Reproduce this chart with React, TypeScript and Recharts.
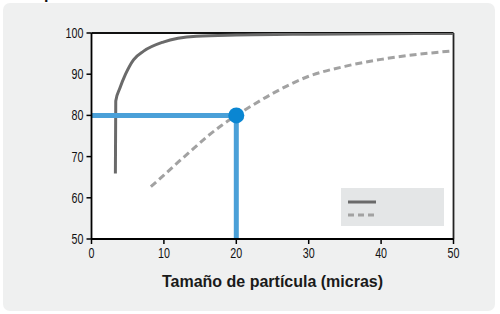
import React from 'react';
import { LineChart, Line, XAxis, YAxis, CartesianGrid, ReferenceLine, ReferenceDot } from 'recharts';

const xTicks = [0, 10, 20, 30, 40, 50];
const yTicks = [50, 60, 70, 80, 90, 100];

const solidX = [3.3, 3.35, 3.9, 4.7, 5.8, 7.2, 9.9, 14.5, 20, 30, 40, 50];
const solidY = [65.9, 83.5, 86.5, 90, 93.5, 95.6, 97.8, 99.2, 99.5, 99.7, 99.8, 99.9];

const dashedX = [8.2, 10, 12, 14, 16, 18, 20, 22, 25, 30, 35, 40, 45, 49.5];
const dashedY = [62.7, 65.5, 68.7, 71.8, 74.9, 77.6, 80, 82.2, 85.3, 89.5, 91.9, 93.6, 94.8, 95.6];

const highlightX = 20;
const highlightY = 80;

const solidData = solidX.map((x, i) => ({ x, y: solidY[i] }));
const dashedData = dashedX.map((x, i) => ({ x, y: dashedY[i] }));

const FONT = '"Liberation Sans", Arial, sans-serif';

function NarrowTick(props: any) {
  const { x, y, payload, textAnchor, axis } = props;
  const dy = axis === 'x' ? '0.68em' : '0.34em';
  return (
    <g transform={`translate(${x},${y})`}>
      <text transform="scale(0.74,1)" textAnchor={textAnchor} dy={dy} fontFamily={FONT} fontSize={14.5} fill="#111">
        {payload.value}
      </text>
    </g>
  );
}

export default function App() {
  return (
    <div style={{ position: 'fixed', left: 0, top: 0, width: 500, height: 314, background: '#fff', overflow: 'hidden' }}>
      <LineChart width={500} height={314} margin={{ top: 33, right: 46.5, left: 0, bottom: 14 }}>
        <rect x={3} y={3} width={492} height={308} rx={7} fill="#eff0f0" />
        <text x={44} y={-1.5} fontFamily={FONT} fontWeight="bold" fontSize={16} fill="#111">p</text>
        <rect x={91.5} y={33} width={362} height={206} fill="#ffffff" />
        <CartesianGrid stroke="#858585" strokeWidth={1.4} horizontalValues={[60, 70, 80, 90]} verticalValues={[10, 20, 30, 40]} />
        <XAxis
          type="number"
          dataKey="x"
          domain={[0, 50]}
          ticks={xTicks}
          allowDataOverflow
          tick={<NarrowTick axis="x" />}
          tickSize={5}
          tickMargin={4}
          height={61}
          stroke="#000"
          strokeWidth={1.8}
          tickLine={{ stroke: '#000', strokeWidth: 1.5 }}
          label={{ value: 'Tamaño de partícula (micras)', position: 'insideBottom', offset: 13, style: { fontFamily: FONT, fontWeight: 'bold', fontSize: 16, fill: '#1a1a1a' } }}
        />
        <YAxis
          type="number"
          dataKey="y"
          domain={[50, 100]}
          ticks={yTicks}
          allowDataOverflow
          tick={<NarrowTick axis="y" />}
          tickSize={5}
          tickMargin={3}
          width={91.5}
          stroke="#000"
          strokeWidth={1.8}
          tickLine={{ stroke: '#000', strokeWidth: 1.5 }}
        />
        <ReferenceLine y={100} stroke="#111" strokeWidth={1.8} />
        <ReferenceLine x={50} stroke="#222" strokeWidth={1.8} />
        <Line data={dashedData} dataKey="y" type="monotone" stroke="#a2a2a2" strokeWidth={3} strokeDasharray="7 4" dot={false} isAnimationActive={false} />
        <Line data={solidData} dataKey="y" type="monotone" stroke="#6a6a6a" strokeWidth={3} dot={false} isAnimationActive={false} />
        <ReferenceLine segment={[{ x: 0, y: highlightY }, { x: highlightX, y: highlightY }]} stroke="#4aa0d8" strokeWidth={5} />
        <ReferenceLine segment={[{ x: highlightX, y: highlightY }, { x: highlightX, y: 50 }]} stroke="#4aa0d8" strokeWidth={5} />
        <ReferenceDot x={highlightX} y={highlightY} r={8} fill="#0a86d2" stroke="none" />
        <rect x={341} y={188} width={103} height={38} fill="#e4e6e7" />
        <line x1={348} y1={202} x2={376} y2={202} stroke="#6a6a6a" strokeWidth={3} />
        <line x1={348} y1={215} x2={377} y2={215} stroke="#a2a2a2" strokeWidth={3} strokeDasharray="6 4" />
      </LineChart>
    </div>
  );
}
